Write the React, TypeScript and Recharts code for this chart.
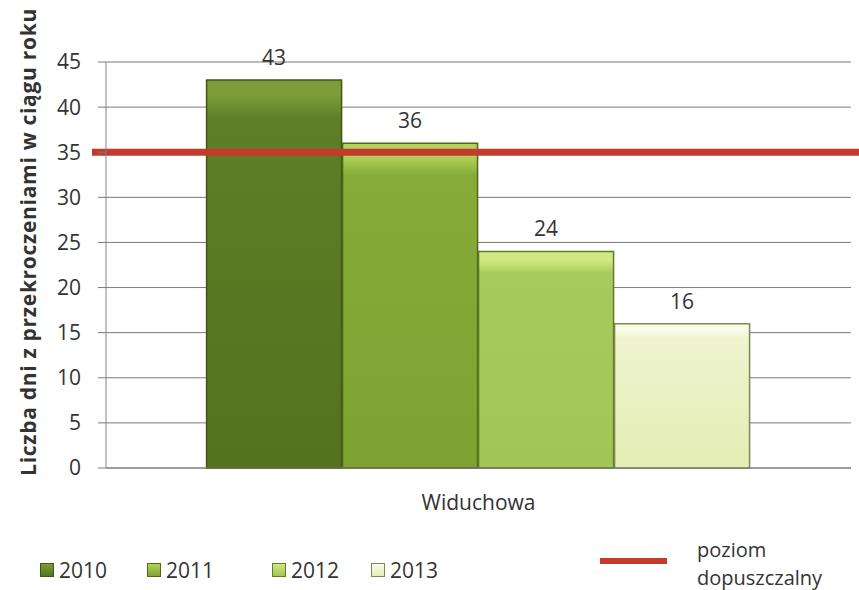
import React from 'react';
import { BarChart, Bar, XAxis, YAxis, CartesianGrid, ReferenceLine, LabelList, Legend } from 'recharts';

const categories = ['Widuchowa'];
const years = ['2010', '2011', '2012', '2013'];
const values2010 = [43];
const values2011 = [36];
const values2012 = [24];
const values2013 = [16];
const limitValue = 35;
const yTicks = [0, 5, 10, 15, 20, 25, 30, 35, 40, 45];
const yLabel = 'Liczba dni z przekroczeniami w ciągu roku';
const limitLabel = ['poziom', 'dopuszczalny'];

const data = categories.map((c, i) => ({
  name: c,
  y2010: values2010[i],
  y2011: values2011[i],
  y2012: values2012[i],
  y2013: values2013[i],
}));

const FONT = '"Open Sans", "Noto Sans", sans-serif';

const barStyles = [
  { top: '#7e9c3a', bottom: '#55721f', stroke: '#3f5615', legend: '#5f7e26' },
  { top: '#b2d25a', bottom: '#7ea333', stroke: '#4d6a1a', legend: '#86ab38' },
  { top: '#d2e882', bottom: '#a3c556', stroke: '#5f7d28', legend: '#a9cb5c' },
  { top: '#fafce8', bottom: '#e4edb4', stroke: '#7a8a50', legend: '#eff4cf' },
];

const RedLine = (props: any) => {
  const { x1, x2, y1 } = props;
  return <line x1={x1 - 14} x2={x2 + 12} y1={y1} y2={y1} stroke="#c33b2c" strokeWidth={7} />;
};

const XTick = (props: any) => {
  const { x, y, payload } = props;
  return (
    <text x={x} y={y + 34} textAnchor="middle" fontSize={21} fill="#333" fontFamily={FONT}>
      {payload.value}
    </text>
  );
};

const YLabel = (props: any) => {
  const { viewBox } = props;
  const cy = viewBox.y + viewBox.height / 2 - 23;
  return (
    <text
      x={28}
      y={cy}
      transform={`rotate(-90, 28, ${cy})`}
      textAnchor="middle"
      dominantBaseline="central"
      fontSize={21}
      letterSpacing={0.7}
      fontWeight="bold"
      fill="#333"
      fontFamily={FONT}
    >
      {yLabel}
    </text>
  );
};

const LegendContent = () => {
  const xs = [40, 147, 272, 371];
  return (
    <div style={{ position: 'relative', width: 859, height: 50, fontFamily: FONT, color: '#333' }}>
      {years.map((yr, i) => (
        <div key={yr} style={{ position: 'absolute', left: xs[i], top: 16, height: 28, display: 'flex', alignItems: 'center' }}>
          <span
            style={{
              display: 'inline-block',
              width: 12,
              height: 12,
              background: `linear-gradient(${barStyles[i].top}, ${barStyles[i].bottom})`,
              border: `1px solid ${barStyles[i].stroke}`,
              marginRight: 5,
            }}
          />
          <span style={{ fontSize: 21, lineHeight: '28px' }}>{yr}</span>
        </div>
      ))}
      <div style={{ position: 'absolute', left: 600, top: 18, width: 67, height: 6, background: '#c33b2c' }} />
      <div style={{ position: 'absolute', left: 697, top: -4, fontSize: 20, lineHeight: '28px' }}>
        <div>{limitLabel[0]}</div>
        <div>{limitLabel[1]}</div>
      </div>
    </div>
  );
};

export default function App() {
  const keys = ['y2010', 'y2011', 'y2012', 'y2013'];
  return (
    <div style={{ position: 'absolute', left: 0, top: 0, width: 859, height: 590, background: '#fff', overflow: 'hidden' }}>
      <BarChart
        width={859}
        height={590}
        data={data}
        margin={{ top: 62, right: 8, left: 0, bottom: 32 }}
        barCategoryGap="13.5%"
        barGap={1}
      >
        <defs>
          {barStyles.map((s, i) => (
            <linearGradient key={i} id={`g${i}`} x1="0" y1="0" x2="0" y2="1">
              <stop offset="0%" stopColor={s.top} />
              <stop offset="4%" stopColor={s.top} />
              <stop offset="10%" stopColor={s.legend} />
              <stop offset="100%" stopColor={s.bottom} />
            </linearGradient>
          ))}
        </defs>
        <CartesianGrid vertical={false} stroke="#7a7a7a" />
        <XAxis
          dataKey="name"
          height={40}
          tickLine={false}
          axisLine={{ stroke: '#7a7a7a' }}
          tick={<XTick />}
        />
        <YAxis
          width={106}
          domain={[0, 45]}
          ticks={yTicks}
          interval={0}
          tickSize={8}
          tickMargin={17}
          axisLine={{ stroke: '#7c80a8' }}
          tickLine={{ stroke: '#7a7a7a' }}
          tick={{ fontSize: 21, fill: '#333', fontFamily: FONT }}
          label={<YLabel />}
        />
        <Legend verticalAlign="bottom" height={50} wrapperStyle={{ left: 0, bottom: 0, width: 859 }} content={<LegendContent />} />
        {keys.map((k, i) => (
          <Bar key={k} dataKey={k} name={years[i]} fill={`url(#g${i})`} stroke={barStyles[i].stroke} strokeWidth={1.5} isAnimationActive={false}>
            <LabelList dataKey={k} position="top" offset={15} fontSize={21} fill="#333" fontFamily={FONT} />
          </Bar>
        ))}
        <ReferenceLine y={limitValue} shape={<RedLine />} ifOverflow="visible" />
      </BarChart>
    </div>
  );
}
